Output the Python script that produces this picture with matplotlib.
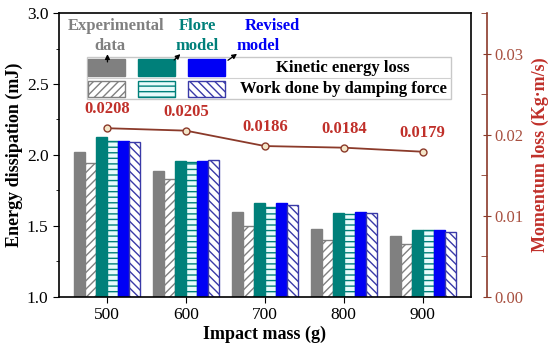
import matplotlib
matplotlib.use("Agg")
import matplotlib.pyplot as plt
import numpy as np
from matplotlib.patches import Rectangle
from matplotlib.ticker import MultipleLocator

plt.rcParams['font.family'] = ['Liberation Serif', 'DejaVu Serif']
plt.rcParams['hatch.linewidth'] = 1.0

masses = [500, 600, 700, 800, 900]
exp_ke = [2.02, 1.89, 1.60, 1.48, 1.43]
exp_wd = [1.94, 1.83, 1.50, 1.40, 1.37]
flore_ke = [2.13, 1.96, 1.66, 1.59, 1.47]
flore_wd = [2.10, 1.95, 1.63, 1.585, 1.47]
rev_ke = [2.10, 1.96, 1.66, 1.60, 1.47]
rev_wd = [2.09, 1.965, 1.65, 1.59, 1.46]
momentum = [0.0208, 0.0205, 0.0186, 0.0184, 0.0179]
momentum_labels = ["0.0208", "0.0205", "0.0186", "0.0184", "0.0179"]

GREY = "#808080"
TEAL = "#00807a"
BLUE = "#0000f5"
BLUEH = "#3a3aa8"
BROWN = "#8b3a2a"
RED = "#c0302a"

fig = plt.figure(figsize=(5.5, 3.44), dpi=100)
ax = fig.add_axes([0.107, 0.137, 0.749, 0.825])

x = np.array(masses, dtype=float)
w = 14.0
offs = np.array([-2.5, -1.5, -0.5, 0.5, 1.5, 2.5]) * w

styles = [
    (exp_ke, dict(color=GREY, edgecolor=GREY)),
    (exp_wd, dict(facecolor="white", edgecolor=GREY, hatch="////")),
    (flore_ke, dict(color=TEAL, edgecolor=TEAL)),
    (flore_wd, dict(facecolor="#e8fbfb", edgecolor=TEAL, hatch="---")),
    (rev_ke, dict(color=BLUE, edgecolor=BLUE)),
    (rev_wd, dict(facecolor="white", edgecolor=BLUEH, hatch="\\\\\\\\")),
]
for (vals, kw), o in zip(styles, offs):
    ax.bar(x + o, np.array(vals) - 1.0, bottom=1.0, width=w, linewidth=1.0, **kw)

ax.set_xlim(439, 961)
ax.set_ylim(1.0, 3.0)
ax.set_xticks(masses)
ax.set_xticklabels([str(m) for m in masses])
ax.yaxis.set_major_locator(MultipleLocator(0.5))
ax.yaxis.set_minor_locator(MultipleLocator(0.25))
ax.tick_params(axis='y', which='major', direction='out', length=4, labelsize=12.5)
ax.tick_params(axis='y', which='minor', direction='out', length=2.5)
ax.tick_params(axis='x', direction='out', length=4, labelsize=12.5)
ax.set_xlabel("Impact mass (g)", fontsize=13, fontweight='bold', labelpad=2)
ax.set_ylabel("Energy dissipation (mJ)", fontsize=13, fontweight='bold', labelpad=3)
for s in ax.spines.values():
    s.set_linewidth(1.2)

# Right axis
ax2 = ax.twinx()
ax2.spines['right'].set_position(('outward', 12))
ax2.spines['right'].set_color(BROWN)
ax2.spines['right'].set_linewidth(1.2)
ax2.spines['top'].set_visible(False)
ax2.spines['left'].set_visible(False)
ax2.spines['bottom'].set_visible(False)
ax2.set_ylim(0, 0.035)
ax2.yaxis.set_major_locator(MultipleLocator(0.01))
ax2.yaxis.set_minor_locator(MultipleLocator(0.005))
ax2.yaxis.set_major_formatter(matplotlib.ticker.FormatStrFormatter('%.2f'))
ax2.tick_params(axis='y', which='major', direction='inout', length=6, color=BROWN,
                labelcolor="#a85040", labelsize=12, pad=2)
ax2.tick_params(axis='y', which='minor', direction='in', length=4, color=BROWN)
ax2.set_ylabel("Momentum loss (Kg·m/s)", fontsize=13, fontweight='bold', color=RED, labelpad=6)

ax2.plot(x, momentum, color=BROWN, linewidth=1.3, marker='o', markersize=5,
         markerfacecolor="#f4e6c8", markeredgecolor=BROWN, markeredgewidth=1.0)
for xi, yi, lab in zip(x, momentum, momentum_labels):
    ax2.annotate(lab, (xi, yi), xytext=(0, 8), textcoords='offset points',
                 ha='center', va='bottom', fontsize=12, fontweight='bold', color=RED)

# Custom legend (table-like)
T = ax.transAxes
box = Rectangle((0.068, 0.697), 0.883, 0.148, transform=T, facecolor='white',
                edgecolor='#c8c8c8', linewidth=1.0, zorder=5)
ax.add_patch(box)
ax.plot([0.068, 0.951], [0.771, 0.771], transform=T, color='#d0d0d0', linewidth=0.8, zorder=6)
row1 = (0.778, 0.060)
row2 = (0.704, 0.058)
pw = 0.090
# kinetic
for cx, fc in [(0.070, GREY), (0.192, TEAL), (0.313, BLUE)]:
    ax.add_patch(Rectangle((cx, row1[0]), pw, row1[1], transform=T, facecolor=fc,
                           edgecolor=fc, linewidth=1.0, zorder=7))
# work
for cx, fc, ec, h in [(0.070, 'white', GREY, '////'), (0.192, '#e8fbfb', TEAL, '---'),
                      (0.313, 'white', BLUEH, '\\\\\\\\')]:
    ax.add_patch(Rectangle((cx, row2[0]), pw, row2[1], transform=T, facecolor=fc,
                           edgecolor=ec, hatch=h, linewidth=1.0, zorder=7))
ax.text(0.69, 0.808, "Kinetic energy loss", transform=T, ha='center', va='center',
        fontsize=12, fontweight='bold', zorder=8)
ax.text(0.69, 0.734, "Work done by damping force", transform=T, ha='center', va='center',
        fontsize=12, fontweight='bold', zorder=8)

# Column headers with arrows
ax.text(0.138, 0.955, "Experimental", transform=T, ha='center', va='center',
        fontsize=12, fontweight='bold', color=GREY, zorder=8)
ax.text(0.125, 0.885, "data", transform=T, ha='center', va='center',
        fontsize=12, fontweight='bold', color=GREY, zorder=8)
ax.text(0.337, 0.955, "Flore", transform=T, ha='center', va='center',
        fontsize=12, fontweight='bold', color=TEAL, zorder=8)
ax.text(0.335, 0.885, "model", transform=T, ha='center', va='center',
        fontsize=12, fontweight='bold', color=TEAL, zorder=8)
ax.text(0.518, 0.955, "Revised", transform=T, ha='center', va='center',
        fontsize=12, fontweight='bold', color=BLUE, zorder=8)
ax.text(0.484, 0.885, "model", transform=T, ha='center', va='center',
        fontsize=12, fontweight='bold', color=BLUE, zorder=8)
arrow_kw = dict(arrowstyle='-|>', color='black', lw=0.9, mutation_scale=7)
ax.annotate("", xy=(0.118, 0.865), xytext=(0.118, 0.818), xycoords=T, textcoords=T,
            arrowprops=arrow_kw, zorder=9)
ax.annotate("", xy=(0.300, 0.862), xytext=(0.275, 0.828), xycoords=T, textcoords=T,
            arrowprops=arrow_kw, zorder=9)
ax.annotate("", xy=(0.438, 0.862), xytext=(0.405, 0.828), xycoords=T, textcoords=T,
            arrowprops=arrow_kw, zorder=9)

fig.savefig("out.png", dpi=100)
